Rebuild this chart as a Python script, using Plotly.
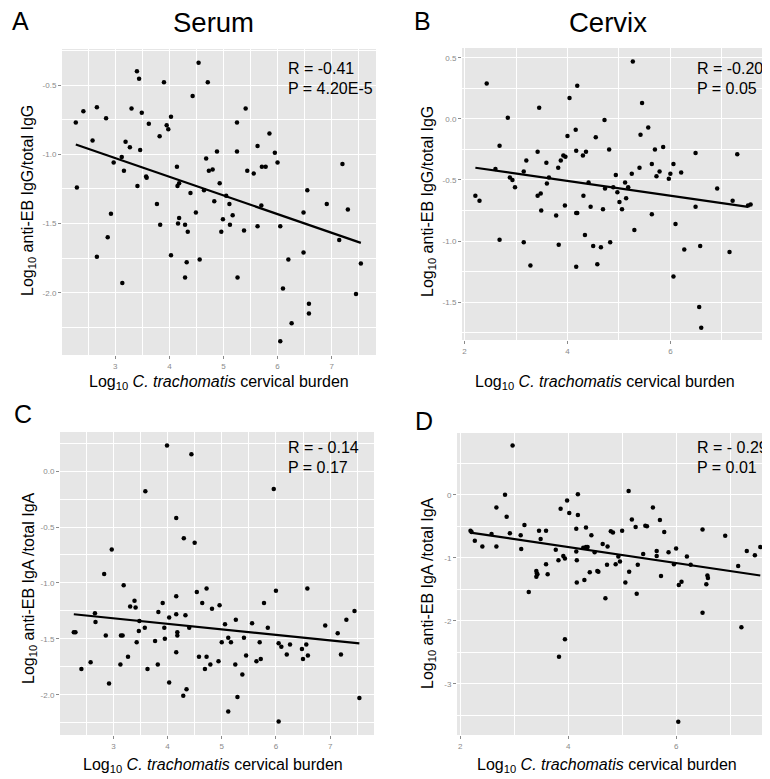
import plotly.graph_objects as go

# ---------------- data ----------------
# Panel A: Serum IgG
a_x = [2.27,2.29,2.41,2.58,2.66,2.66,2.83,2.86,2.92,2.97,
       3.12,3.13,3.16,3.19,3.27,3.30,3.40,3.44,3.41,3.46,
       3.49,3.57,3.58,3.62,3.77,3.82,3.83,3.90,3.95,3.98,
       4.03,4.03,4.14,4.15,4.18,4.18,4.16,4.29,4.29,4.32,
       4.34,4.39,4.49,4.43,4.54,4.56,4.64,4.68,4.71,4.73,
       4.80,4.83,4.88,4.93,4.96,4.99,5.05,5.11,5.12,5.17,
       5.25,5.25,5.26,5.41,5.38,5.44,5.56,5.63,5.63,5.70,
       5.71,5.78,5.85,5.95,6.00,6.05,6.10,6.05,6.20,6.26,
       6.48,6.48,6.55,6.58,6.58,6.91,7.14,7.20,7.30,7.45,7.54]
a_y = [-0.77,-1.24,-0.69,-0.90,-0.66,-1.74,-0.74,-1.60,-1.43,-1.06,
       -1.02,-1.93,-1.12,-0.91,-0.95,-0.67,-0.40,-0.455,-1.23,-0.97,
       -0.70,-1.16,-1.17,-0.78,-1.36,-0.87,-1.51,-0.48,-0.79,-0.82,
       -0.73,-1.73,-1.09,-1.23,-1.21,-1.46,-1.50,-1.51,-1.89,-1.78,
       -1.56,-1.28,-1.42,-0.58,-0.34,-1.76,-1.26,-1.03,-0.48,-1.12,
       -1.11,-1.34,-0.98,-1.21,-1.56,-1.47,-1.30,-1.36,-1.51,-1.44,
       -0.77,-0.98,-1.89,-0.67,-1.55,-1.12,-1.14,-0.94,-1.52,-1.37,
       -1.09,-1.09,-0.85,-0.99,-1.06,-1.52,-1.97,-2.35,-1.76,-2.22,
       -1.71,-1.42,-1.26,-2.08,-2.15,-1.36,-1.62,-1.07,-1.40,-2.01,-1.79]
a_fit_x = [2.27, 7.54]
a_fit_y = [-0.93, -1.64]

# Panel B: Cervix IgG (x, y)
b_points = [
    (2.21,-0.63),(2.29,-0.67),(2.43,0.29),(2.60,-0.41),(2.68,-0.22),(2.68,-0.99),(2.84,0.01),(2.88,-0.48),(2.93,-0.50),(2.98,-0.56),
    (3.15,-1.01),(3.15,-0.43),(3.20,-0.34),(3.28,-1.20),(3.42,-0.27),(3.42,-0.63),(3.45,0.09),(3.48,-0.61),(3.49,-0.75),(3.59,-0.36),
    (3.60,-0.53),(3.64,-0.48),(3.78,-0.79),(3.82,-0.40),(3.83,-1.03),(3.87,-0.34),(3.92,-0.30),(3.95,-0.71),(3.96,-0.31),(4.00,-0.14),
    (4.04,0.17),(4.16,-0.09),(4.17,-0.26),(4.17,-0.77),(4.19,0.27),(4.19,-0.77),(4.17,-1.21),(4.30,-0.30),(4.31,-0.63),(4.34,-0.95),
    (4.36,-0.27),(4.41,-0.52),(4.45,-0.72),(4.50,-1.04),(4.55,-0.15),(4.58,-1.19),(4.65,-1.05),(4.69,-0.74),(4.72,-0.01),(4.73,-0.57),
    (4.81,-0.25),(4.83,-1.01),(4.94,-0.46),(4.89,-0.56),(4.97,-0.60),(5.01,-0.68),(5.06,-0.74),(5.12,-0.52),(5.14,-0.65),(5.18,-0.56),
    (5.25,-0.45),(5.27,0.47),(5.30,-0.91),(5.40,-0.40),(5.42,-0.13),(5.45,0.13),(5.57,-0.07),(5.64,-0.37),(5.64,-0.78),(5.70,-0.25),
    (5.73,-0.47),(5.79,-0.43),(5.86,-0.23),(5.97,-0.49),(6.00,-0.45),(6.06,-0.37),(6.06,-1.29),(6.10,-0.86),(6.21,-0.44),(6.27,-1.07),
    (6.49,-0.28),(6.49,-0.72),(6.56,-1.54),(6.58,-1.04),(6.60,-1.71),(6.91,-0.57),(7.15,-1.09),(7.21,-0.67),(7.30,-0.29),(7.51,-0.71),(7.56,-0.70)]
b_fit_x = [2.21, 7.51]
b_fit_y = [-0.40, -0.72]

# Panel C: Serum IgA (x, y)
c_points = [
    (2.27,-1.44),(2.30,-1.44),(2.41,-1.77),(2.58,-1.71),(2.66,-1.27),(2.67,-1.35),(2.83,-0.92),(2.86,-1.47),(2.92,-1.90),(2.97,-0.70),
    (3.13,-1.73),(3.14,-1.47),(3.17,-1.47),(3.19,-1.02),(3.27,-1.66),(3.31,-1.21),(3.39,-1.16),(3.41,-1.22),(3.43,-1.53),(3.47,-1.43),
    (3.48,-1.34),(3.58,-1.40),(3.59,-0.18),(3.63,-1.77),(3.77,-1.52),(3.82,-1.73),(3.83,-1.26),(3.91,-1.18),(3.94,-1.40),(3.95,-1.50),
    (4.03,-1.89),(4.03,-1.31),(3.99,0.23),(4.16,-1.12),(4.16,-1.28),(4.16,-0.42),(4.18,-1.44),(4.18,-1.47),(4.16,-1.62),(4.29,-2.01),
    (4.30,-0.60),(4.33,-1.29),(4.35,-1.95),(4.40,-1.40),(4.44,0.15),(4.50,-0.64),(4.54,-1.08),(4.58,-1.66),(4.64,-1.18),(4.69,-1.77),
    (4.72,-1.05),(4.72,-1.66),(4.79,-1.73),(4.82,-1.23),(4.94,-1.70),(4.96,-1.20),(5.00,-1.53),(5.06,-1.37),(5.12,-1.49),(5.17,-1.53),
    (5.12,-2.15),(5.26,-1.33),(5.25,-1.73),(5.29,-2.02),(5.38,-1.82),(5.41,-1.49),(5.45,-1.65),(5.56,-1.36),(5.64,-1.70),(5.70,-1.53),
    (5.72,-1.68),(5.78,-1.18),(5.85,-1.40),(5.96,-0.16),(6.00,-1.07),(6.05,-1.54),(6.10,-1.57),(6.05,-2.24),(6.20,-1.64),(6.26,-1.55),
    (6.48,-1.59),(6.50,-1.68),(6.56,-1.55),(6.58,-1.05),(6.59,-1.65),(6.91,-1.38),(7.14,-1.45),(7.20,-1.64),(7.30,-1.33),(7.45,-1.25),(7.54,-2.03)]
c_fit_x = [2.27, 7.54]
c_fit_y = [-1.28, -1.54]

# Panel D: Cervix IgA (x, y)
d_points = [
    (2.19,-0.57),(2.21,-0.59),(2.27,-0.73),(2.41,-0.82),(2.58,-0.62),(2.67,-0.20),(2.67,-0.82),(2.83,0.00),(2.86,-0.35),(2.92,-0.61),
    (2.97,0.78),(3.12,-0.64),(3.13,-0.86),(3.19,-0.48),(3.27,-1.54),(3.41,-1.21),(3.41,-1.30),(3.42,-1.25),(3.43,-1.26),(3.46,-0.57),
    (3.49,-0.70),(3.59,-0.57),(3.59,-1.10),(3.62,-1.26),(3.77,-0.87),(3.82,-1.04),(3.86,-0.22),(3.91,-0.97),(3.94,-1.01),(3.94,-2.29),
    (3.98,-0.09),(3.83,-2.57),(4.02,-0.29),(4.15,-0.54),(4.15,-0.90),(4.16,-1.04),(4.16,-1.39),(4.18,0.01),(4.18,-0.32),(4.28,-0.84),
    (4.30,-1.35),(4.33,-0.52),(4.33,-0.83),(4.36,-0.83),(4.40,-1.23),(4.43,-0.64),(4.49,-0.91),(4.54,-1.21),(4.56,-1.22),(4.64,-0.78),
    (4.69,-1.64),(4.72,-1.11),(4.73,-0.82),(4.79,-0.58),(4.83,-0.60),(4.88,-1.10),(4.93,-0.98),(4.96,-1.06),(5.00,-0.57),(5.06,-1.39),
    (5.12,0.06),(5.13,-1.22),(5.18,-0.39),(5.25,-0.51),(5.27,-1.57),(5.29,-1.11),(5.39,-0.94),(5.43,-0.49),(5.46,-0.50),(5.57,-0.20),
    (5.64,-0.89),(5.64,-0.97),(5.70,-0.40),(5.72,-1.29),(5.78,-0.59),(5.86,-0.91),(5.96,-1.10),(6.00,-0.85),(6.05,-1.43),(6.10,-1.38),
    (6.20,-0.98),(6.27,-1.11),(6.49,-0.55),(6.49,-1.87),(6.56,-1.42),(6.58,-1.28),(6.59,-1.32),(6.91,-0.65),(7.15,-1.13),(7.21,-2.10),
    (7.31,-0.89),(7.46,-0.96),(7.56,-0.83),(6.04,-3.60)]
d_fit_x = [2.19, 7.56]
d_fit_y = [-0.60, -1.28]

# tick values / labels
ax_ticks = [3, 4, 5, 6, 7]
bx_ticks = [2, 4, 6]
ay_ticks = [-0.5, -1.0, -1.5, -2.0]
ay_labels = ["-0.5", "-1.0", "-1.5", "-2.0"]
by_ticks = [0.5, 0.0, -0.5, -1.0, -1.5]
by_labels = ["0.5", "0.0", "-0.5", "-1.0", "-1.5"]
cy_ticks = [0.0, -0.5, -1.0, -1.5, -2.0]
cy_labels = ["0.0", "-0.5", "-1.0", "-1.5", "-2.0"]
dy_ticks = [0, -1, -2, -3]
dy_labels = ["0", "-1", "-2", "-3"]

panel_titles = ["Serum", "Cervix"]
panel_letters = ["A", "B", "C", "D"]
stats_r = ["R = -0.41", "R = -0.20", "R = - 0.14", "R = - 0.29"]
stats_p = ["P = 4.20E-5", "P = 0.05", "P = 0.17", "P = 0.01"]
y_titles = ["Log<sub>10</sub> anti-EB IgG/total IgG", "Log<sub>10</sub> anti-EB IgG/total IgG",
            "Log<sub>10</sub> anti-EB IgA /total IgA", "Log<sub>10</sub> anti-EB IgA /total IgA"]
x_title = "Log<sub>10</sub> <i>C. trachomatis</i> cervical burden"

# ---------------- figure ----------------
# The page body has an 8px margin, so the figure is drawn 8px in from the
# window's top-left corner; positions below are in window pixels.
OFF = 8
W, H = 770 - OFF, 779 - OFF
FONT = "Liberation Sans, Arial, sans-serif"
BG = "#E6E6E6"

def px(x):
    return (x - OFF) / W

def py(y):
    return 1 - (y - OFF) / H

panels = [
    dict(xs=a_x, ys=a_y, fx=a_fit_x, fy=a_fit_y,
         xdom=[62, 376], ydom=[49, 355], xr=[2.015, 7.82], yr=[-2.45, -0.24],
         xt=ax_ticks, xm=(2.5, 1), yt=ay_ticks, yl=ay_labels, ym=(-0.25, 0.5),
         stat=(286, 69), ytitle=(28, 201), xtitle=(219, 382)),
    dict(xs=[p[0] for p in b_points], ys=[p[1] for p in b_points], fx=b_fit_x, fy=b_fit_y,
         xdom=[462, 764], ydom=[48, 340], xr=[1.95, 7.82], yr=[-1.81, 0.58],
         xt=bx_ticks, xm=(3, 2), yt=by_ticks, yl=by_labels, ym=(0.25, 0.5),
         stat=(695, 69), ytitle=(428, 202), xtitle=(605, 382)),
    dict(xs=[p[0] for p in c_points], ys=[p[1] for p in c_points], fx=c_fit_x, fy=c_fit_y,
         xdom=[60, 374], ydom=[432, 735], xr=[2.015, 7.81], yr=[-2.36, 0.35],
         xt=ax_ticks, xm=(2.5, 1), yt=cy_ticks, yl=cy_labels, ym=(0.25, 0.5),
         stat=(286, 447), ytitle=(29, 588), xtitle=(213, 765)),
    dict(xs=[p[0] for p in d_points], ys=[p[1] for p in d_points], fx=d_fit_x, fy=d_fit_y,
         xdom=[457, 770], ydom=[433, 735], xr=[1.94, 7.74], yr=[-3.81, 0.98],
         xt=bx_ticks, xm=(3, 2), yt=dy_ticks, yl=dy_labels, ym=(0.5, 1),
         stat=(695, 447), ytitle=(428, 593), xtitle=(607, 765)),
]

fig = go.Figure()
annotations = []
layout_axes = {}
for i, p in enumerate(panels):
    n = "" if i == 0 else str(i + 1)
    xa, ya = "x" + n, "y" + n
    fig.add_trace(go.Scatter(x=p["xs"], y=p["ys"], mode="markers", xaxis=xa, yaxis=ya,
                             marker=dict(color="black", size=4.5), showlegend=False,
                             hoverinfo="skip"))
    fig.add_trace(go.Scatter(x=p["fx"], y=p["fy"], mode="lines", xaxis=xa, yaxis=ya,
                             line=dict(color="black", width=2.2), showlegend=False,
                             hoverinfo="skip"))
    common = dict(showgrid=True, gridcolor="white", gridwidth=1.3, zeroline=False,
                  showline=False, ticks="outside", ticklen=3, tickwidth=1,
                  tickcolor="#8a8a8a", tickfont=dict(family=FONT, size=8, color="#8a8a8a"),
                  fixedrange=True)
    layout_axes["xaxis" + n] = dict(
        common, domain=[px(p["xdom"][0]), min(1.0, px(p["xdom"][1]))], range=p["xr"],
        anchor=ya, tickmode="array", tickvals=p["xt"], ticktext=[str(v) for v in p["xt"]],
        minor=dict(showgrid=True, gridcolor="white", gridwidth=0.6,
                   tick0=p["xm"][0], dtick=p["xm"][1]))
    layout_axes["yaxis" + n] = dict(
        common, domain=[py(p["ydom"][1]), py(p["ydom"][0])], range=p["yr"],
        anchor=xa, tickmode="array", tickvals=p["yt"], ticktext=p["yl"],
        minor=dict(showgrid=True, gridcolor="white", gridwidth=0.6,
                   tick0=p["ym"][0], dtick=p["ym"][1]))
    sx, sy = p["stat"]
    annotations.append(dict(x=px(sx), y=py(sy), xref="paper", yref="paper", text=stats_r[i],
                            showarrow=False, xanchor="left", yanchor="middle",
                            font=dict(family=FONT, size=16, color="black")))
    annotations.append(dict(x=px(sx), y=py(sy + 20), xref="paper", yref="paper", text=stats_p[i],
                            showarrow=False, xanchor="left", yanchor="middle",
                            font=dict(family=FONT, size=16, color="black")))
    tx, ty = p["ytitle"]
    annotations.append(dict(x=px(tx), y=py(ty), xref="paper", yref="paper", text=y_titles[i],
                            showarrow=False, textangle=-90, xanchor="center", yanchor="middle",
                            font=dict(family=FONT, size=16, color="black")))
    tx, ty = p["xtitle"]
    annotations.append(dict(x=px(tx), y=py(ty), xref="paper", yref="paper", text=x_title,
                            showarrow=False, xanchor="center", yanchor="middle",
                            font=dict(family=FONT, size=16, color="black")))

# panel titles and letters
for txt, (x, y) in zip(panel_titles, [(213, 22), (608, 22)]):
    annotations.append(dict(x=px(x), y=py(y), xref="paper", yref="paper", text=txt,
                            showarrow=False, xanchor="center", yanchor="middle",
                            font=dict(family=FONT, size=27.5, color="black")))
for txt, (x, y) in zip(panel_letters, [(20, 21), (423, 21), (23, 414), (424, 421)]):
    annotations.append(dict(x=px(x), y=py(y), xref="paper", yref="paper", text=txt,
                            showarrow=False, xanchor="center", yanchor="middle",
                            font=dict(family=FONT, size=25, color="black")))

fig.update_layout(width=W, height=H, margin=dict(l=0, r=0, t=0, b=0),
                  paper_bgcolor="white", plot_bgcolor=BG, annotations=annotations,
                  showlegend=False, **layout_axes)
fig.write_html("out.html", config={"displayModeBar": False})
